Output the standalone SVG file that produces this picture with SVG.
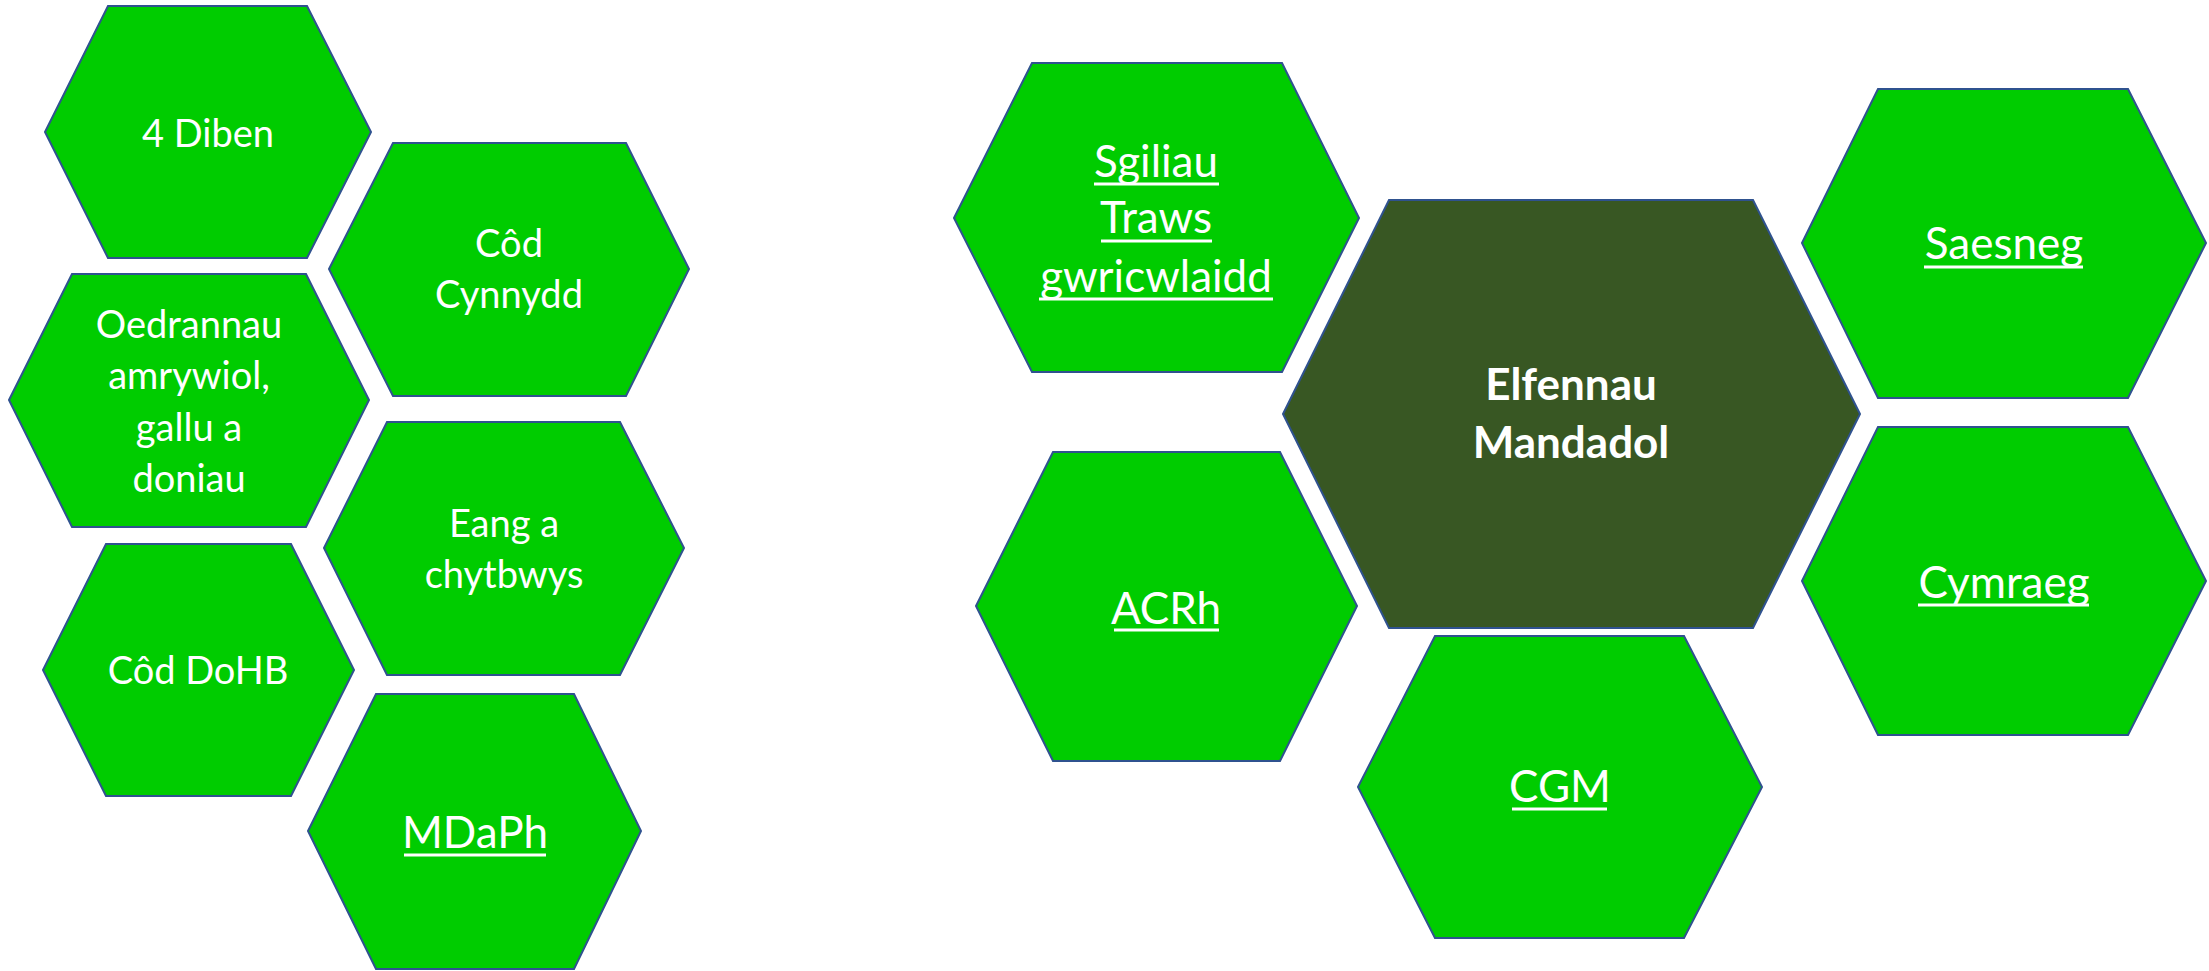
<svg xmlns="http://www.w3.org/2000/svg" width="2209" height="971" viewBox="0 0 2209 971">
<style>
.hex{fill:#00CC00;stroke:#2F528F;stroke-width:2;stroke-linejoin:miter}
.dark{fill:#385723}
.t{font-family:Lato,"Liberation Sans",sans-serif;fill:#FFFFFF;text-anchor:middle}
.s{font-size:38px}
.u{font-size:44px}
.b{font-size:44px;font-weight:bold}
.ul{stroke:#FFFFFF;stroke-width:2.8}
</style>
<rect width="2209" height="971" fill="#FFFFFF"/>
<g id="connectors"></g>
<g id="node-4-diben">
<polygon class="hex" points="45,132 108,6 307,6 371,132 307,258 108,258"/>
<text class="t s" x="208" y="147">4 Diben</text>
</g>
<g id="node-cod-cynnydd">
<polygon class="hex" points="329,269 393,143 626,143 689,269 626,396 393,396"/>
<text class="t s" x="509" y="257">Côd</text>
<text class="t s" x="509" y="308">Cynnydd</text>
</g>
<g id="node-oedrannau">
<polygon class="hex" points="9,400 72,274 306,274 369,400 306,527 72,527"/>
<text class="t s" x="189" y="338">Oedrannau</text>
<text class="t s" x="189" y="389">amrywiol,</text>
<text class="t s" x="189" y="441">gallu a</text>
<text class="t s" x="189" y="492">doniau</text>
</g>
<g id="node-eang">
<polygon class="hex" points="324,548 387,422 620,422 684,548 620,675 387,675"/>
<text class="t s" x="504" y="537">Eang a</text>
<text class="t s" x="504" y="588">chytbwys</text>
</g>
<g id="node-cod-dohb">
<polygon class="hex" points="43,670 106,544 291,544 354,670 291,796 106,796"/>
<text class="t s" x="198" y="684">Côd DoHB</text>
</g>
<g id="node-mdaph">
<polygon class="hex" points="308,831 376,694 574,694 641,831 574,969 376,969"/>
<text class="t u" x="475" y="848">MDaPh</text>
<line class="ul" x1="404" y1="855" x2="546" y2="855"/>
</g>
<g id="node-sgiliau">
<polygon class="hex" points="954,218 1032,63 1282,63 1359,218 1282,372 1032,372"/>
<text class="t u" x="1156" y="177">Sgiliau</text>
<line class="ul" x1="1094" y1="184" x2="1219" y2="184"/>
<text class="t u" x="1156" y="233">Traws</text>
<line class="ul" x1="1101" y1="241" x2="1212" y2="241"/>
<text class="t u" x="1156" y="292">gwricwlaidd</text>
<line class="ul" x1="1039" y1="299" x2="1273" y2="299"/>
</g>
<g id="node-elfennau-mandadol">
<polygon class="hex dark" points="1283,414 1389,200 1753,200 1860,414 1753,628 1389,628"/>
<text class="t b" x="1571" y="400">Elfennau</text>
<text class="t b" x="1571" y="458">Mandadol</text>
</g>
<g id="node-acrh">
<polygon class="hex" points="976,606 1053,452 1280,452 1357,606 1280,761 1053,761"/>
<text class="t u" x="1166" y="624">ACRh</text>
<line class="ul" x1="1114" y1="630" x2="1219" y2="630"/>
</g>
<g id="node-cgm">
<polygon class="hex" points="1358,787 1435,636 1684,636 1762,787 1684,938 1435,938"/>
<text class="t u" x="1560" y="802">CGM</text>
<line class="ul" x1="1512" y1="809" x2="1607" y2="809"/>
</g>
<g id="node-saesneg">
<polygon class="hex" points="1802,243 1878,89 2128,89 2206,243 2128,398 1878,398"/>
<text class="t u" x="2004" y="259">Saesneg</text>
<line class="ul" x1="1924" y1="267" x2="2083" y2="267"/>
</g>
<g id="node-cymraeg">
<polygon class="hex" points="1802,581 1878,427 2128,427 2206,581 2128,735 1878,735"/>
<text class="t u" x="2004" y="598">Cymraeg</text>
<line class="ul" x1="1918" y1="605" x2="2089" y2="605"/>
</g>
</svg>
